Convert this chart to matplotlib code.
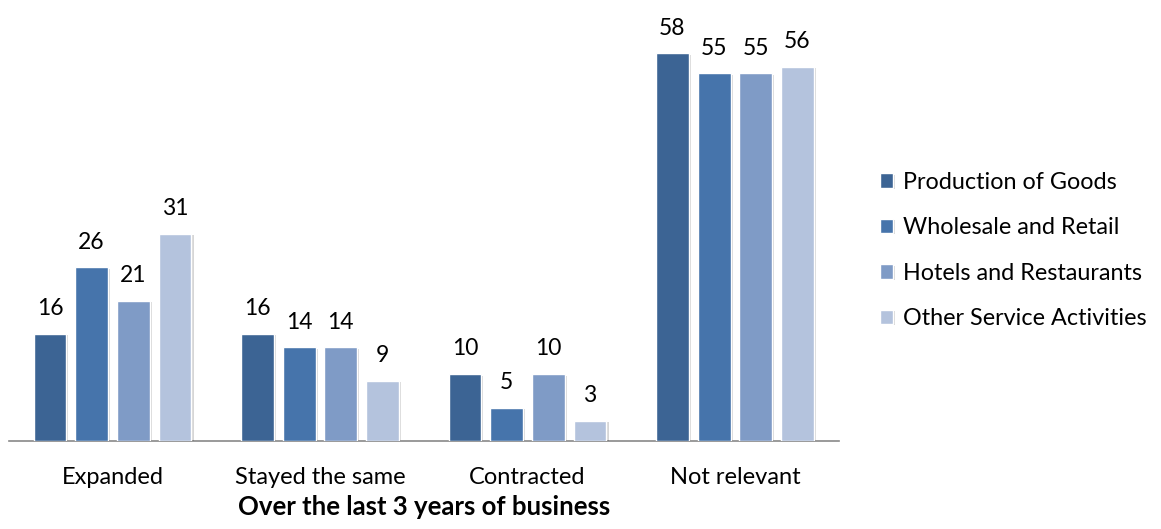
import matplotlib
matplotlib.use("Agg")
import matplotlib.pyplot as plt
import matplotlib.patheffects as pe
import numpy as np

categories = ["Expanded", "Stayed the same", "Contracted", "Not relevant"]
series_names = ["Production of Goods", "Wholesale and Retail",
                "Hotels and Restaurants", "Other Service Activities"]
production = [16, 16, 10, 58]
wholesale = [26, 14, 5, 55]
hotels = [21, 14, 10, 55]
other_services = [31, 9, 3, 56]
colors = ["#3C6494", "#4674AB", "#7F9BC6", "#B4C3DD"]

plt.rcParams["font.family"] = ["Lato", "DejaVu Sans"]

fig = plt.figure(figsize=(11.61, 5.29), dpi=100)
ax = fig.add_axes([8.75 / 1161, 88 / 529, 830 / 1161, 401 / 529])

values = [production, wholesale, hotels, other_services]
x = np.arange(len(categories))
step = 0.201
width = 0.158
shadow = [pe.SimplePatchShadow(offset=(1.5, -1), shadow_rgbFace="#000000", alpha=0.16),
          pe.Normal()]
for i, (name, vals, c) in enumerate(zip(series_names, values, colors)):
    pos = x + (i - 1.5) * step
    bars = ax.bar(pos, vals, width, color=c, edgecolor="white", linewidth=1,
                  label=name, zorder=3)
    for b in bars:
        b.set_path_effects(shadow)
    for p, v in zip(pos, vals):
        ax.text(p, v + 2.2, str(v), ha="center", va="bottom", fontsize=16.5,
                color="#000000", clip_on=False)

ax.set_xlim(-0.5, 3.5)
ax.set_ylim(0, 60)
ax.set_xticks(x)
ax.set_xticklabels(categories, fontsize=17)
ax.tick_params(axis="x", length=0, pad=19)
ax.set_yticks([])
for s in ["top", "right", "left"]:
    ax.spines[s].set_visible(False)
ax.spines["bottom"].set_color("#898989")
ax.spines["bottom"].set_linewidth(1.2)
ax.set_xlabel("Over the last 3 years of business", fontsize=18.5,
              fontweight="bold", labelpad=5)

leg = ax.legend(loc="center left", bbox_to_anchor=(1.024, 0.475), frameon=False,
                fontsize=16.8, handlelength=0.55, handleheight=0.55,
                handletextpad=0.45, labelspacing=1.05)

fig.savefig("out.png", dpi=100)
